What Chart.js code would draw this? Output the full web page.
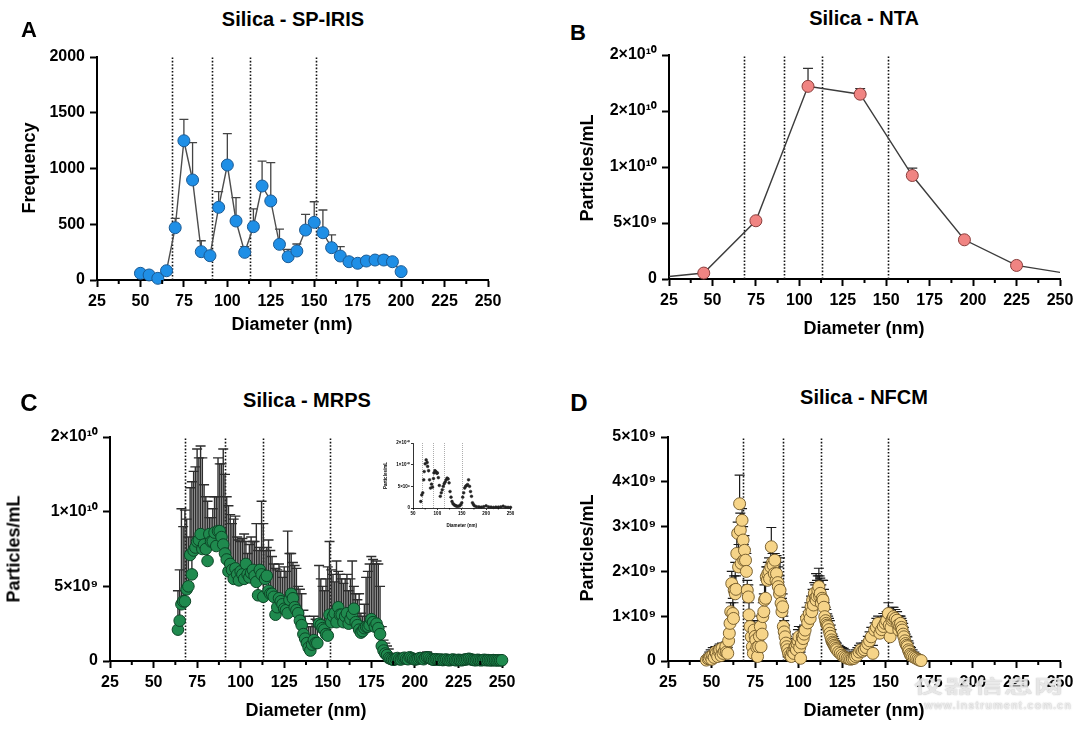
<!DOCTYPE html>
<html>
<head>
<meta charset="utf-8">
<script src="https://cdn.jsdelivr.net/npm/chart.js@4.4.1/dist/chart.umd.min.js"></script>
<style>
  body { margin: 0; background: #fff; }
  #page { position: relative; width: 1080px; height: 730px; overflow: hidden;
          font-family: 'Liberation Sans', Arial, sans-serif; font-weight: bold; color: #000; }
  canvas { position: absolute; }
  .t { position: absolute; white-space: nowrap; transform: translate(-50%, -50%); }
  .rot { transform: translate(-50%, -50%) rotate(-90deg); }
  .letter { font-size: 22px; }
  .title { font-size: 20px; }
  .axis { font-size: 18px; }
  .wm { color: rgba(255, 255, 255, 0.72); font-family: 'Noto Sans CJK SC', sans-serif;
        text-shadow: 0 0 1px rgba(120, 120, 120, 0.55), 0 0 2px rgba(160, 160, 160, 0.35); }
</style>
</head>
<body>
<div id="page">
  <canvas id="chartA" width="490" height="290" style="left:20px; top:40px"></canvas>
  <canvas id="chartB" width="485" height="290" style="left:590px; top:40px"></canvas>
  <canvas id="chartC" width="500" height="290" style="left:20px; top:420px"></canvas>
  <canvas id="chartD" width="485" height="290" style="left:590px; top:420px"></canvas>
  <canvas id="chartInset" width="132" height="92" style="left:383px; top:436px"></canvas>

  <div class="t letter" style="left:29px; top:30px">A</div>
  <div class="t letter" style="left:578px; top:33px">B</div>
  <div class="t letter" style="left:29px; top:403px; font-size:24px">C</div>
  <div class="t letter" style="left:579px; top:403px; font-size:24px">D</div>

  <div class="t title" style="left:293px; top:19px">Silica - SP-IRIS</div>
  <div class="t title" style="left:864px; top:18px">Silica - NTA</div>
  <div class="t title" style="left:307px; top:400px">Silica - MRPS</div>
  <div class="t title" style="left:864px; top:397px">Silica - NFCM</div>

  <div class="t axis rot" style="left:29px; top:168px">Frequency</div>
  <div class="t axis rot" style="left:587px; top:168px">Particles/mL</div>
  <div class="t axis rot" style="left:14px; top:549px">Particles/mL</div>
  <div class="t axis rot" style="left:587px; top:548px">Particles/mL</div>

  <div class="t axis" style="left:292px; top:324px">Diameter (nm)</div>
  <div class="t axis" style="left:864px; top:328px">Diameter (nm)</div>
  <div class="t axis" style="left:306px; top:710px">Diameter (nm)</div>
  <div class="t axis" style="left:864px; top:710px">Diameter (nm)</div>

  <div class="t wm" style="left:989px; top:685px; font-size:29px; letter-spacing:1px; transform:translate(-50%,-50%) scaleY(0.62)">仪器信息网</div>
  <div class="t wm" style="left:998px; top:705px; font-size:11px; letter-spacing:1px; font-family:'Liberation Sans', Arial">www.instrument.com.cn</div>
</div>

<script>
// Shared
const xTickLabels = ['25', '50', '75', '100', '125', '150', '175', '200', '225', '250'];
const guideLines = [68, 91, 113, 151];

// A - SP-IRIS (frequency)
const aDiameter = [50, 55, 60, 65, 70, 75, 80, 85, 90, 95, 100, 105, 110, 115, 120, 125,
                   130, 135, 140, 145, 150, 155, 160, 165, 170, 175, 180, 185, 190, 195, 200];
const aFrequency = [60, 45, 15, 83, 469, 1249, 897, 254, 218, 652, 1031, 529, 248, 478, 843, 709,
                    320, 209, 260, 448, 517, 424, 290, 215, 164, 150, 170, 179, 179, 164, 75];
const aFrequencyErr = [null, null, null, null, 553, 1440, 1232, 352, null, 792, 1312, 738, 299, 637, 1067, 1052,
                       457, 275, 323, 589, 702, 628, 404, 299, 200, null, null, null, 221, null, null];
const aYLabels = ['0', '500', '1000', '1500', '2000'];

// B - NTA (particles/mL, in units of 10^9)
const bDiameter = [15, 45, 75, 105, 135, 165, 195, 225, 255];
const bParticles = [0.08, 0.53, 5.2, 17.2, 16.5, 9.24, 3.5, 1.21, 0.47];
const bParticlesErr = [null, null, null, 18.8, 17.0, 9.9, null, null, null];
const bYLabels = ['0', '5×10⁹', '1×10¹⁰', '2×10¹⁰', '2×10¹⁰'];

// C - MRPS (particles/mL, 10^9)
const cDiameter = [
  64, 65, 66, 67, 68, 69, 70, 71, 72, 73, 74, 75, 76, 77, 78, 79, 80, 81, 82, 83,
  84, 85, 86, 87, 88, 89, 90, 91, 92, 93, 94, 95, 96, 97, 98, 99, 100, 101, 102, 103,
  104, 105, 106, 107, 108, 109, 110, 111, 112, 113, 114, 115, 116, 117, 118, 119, 120, 121, 122, 123,
  124, 125, 126, 127, 128, 129, 130, 131, 132, 133, 134, 135, 136, 137, 138, 139, 140, 141, 142, 143,
  144, 145, 146, 147, 148, 149, 150, 151, 152, 153, 154, 155, 156, 157, 158, 159, 160, 161, 162, 163,
  164, 165, 166, 167, 168, 169, 170, 171, 172, 173, 174, 175, 176, 177, 178, 179, 180, 181, 182, 183,
  184, 185, 186, 187, 188, 189, 190, 191, 192, 193, 194, 195, 196, 197, 198, 199, 200, 201, 202, 203,
  204, 205, 206, 207, 208, 209, 210, 211, 212, 213, 214, 215, 216, 217, 218, 219, 220, 221, 222, 223,
  224, 225, 226, 227, 228, 229, 230, 231, 232, 233, 234, 235, 236, 237, 238, 239, 240, 241, 242, 243,
  244, 245, 246, 247, 248, 249, 250];
const cParticles = [
  2.1, 2.7, 3.8, 4.0, 4.0, 4.8, 5.0, 7.1, 5.8, 7.4, 7.6, 8.0, 8.1, 8.5, 7.5, 7.8, 7.5, 6.7, 8.5, 8.0,
  8.0, 8.6, 7.7, 8.7, 8.7, 8.3, 7.8, 7.2, 6.8, 6.0, 6.5, 6.1, 5.5, 6.2, 5.8, 5.4, 6.0, 5.8, 5.5, 6.5,
  5.8, 5.6, 5.9, 6.1, 5.7, 5.3, 4.4, 6.1, 5.8, 4.3, 5.5, 5.7, 4.7, 4.5, 4.5, 4.3, 3.1, 3.6, 4.2, 4.0,
  3.8, 3.5, 3.4, 3.2, 4.1, 4.5, 4.2, 3.6, 3.4, 3.2, 2.7, 2.4, 1.8, 1.5, 1.2, 0.9, 0.7, 1.1, 1.4, 1.2,
  1.2, 2.5, 2.4, 2.2, 2.1, 1.8, 1.7, 3.1, 2.6, 3.0, 3.2, 2.6, 3.6, 3.1, 3.1, 2.6, 3.0, 3.2, 2.5, 2.8,
  3.1, 3.5, 2.6, 2.4, 2.1, 1.9, 2.0, 2.2, 2.3, 2.3, 2.4, 2.8, 2.6, 2.3, 2.5, 2.2, 1.8, 1.0, 0.7, 0.5,
  0.4, 0.2, 0.15, 0.1, 0.08, 0.15, 0.2, 0.12, 0.1, 0.18, 0.22, 0.15, 0.12, 0.25, 0.2, 0.15, 0.1, 0.12, 0.15, 0.2,
  0.18, 0.12, 0.2, 0.25, 0.22, 0.15, 0.1, 0.08, 0.12, 0.1, 0.08, 0.1, 0.06, 0.08, 0.1, 0.06, 0.05, 0.08, 0.1, 0.06,
  0.05, 0.08, 0.06, 0.05, 0.08, 0.1, 0.12, 0.15, 0.12, 0.08, 0.06, 0.05, 0.08, 0.06, 0.05, 0.06, 0.08, 0.05, 0.06, 0.05,
  0.04, 0.06, 0.05, 0.04, 0.05, 0.04, 0.05];
const cParticlesErr = [
  4.7, 6.1, 10.2, 9.0, 10.1, 9.5, 8.3, 11.6, 12.0, 12.7, 13.0, 14.2, 13.6, 14.4, 13.6, 11.8, 11.0, 10.7, 9.6, 9.6,
  10.2, 11.0, 11.0, 13.6, 13.2, 13.2, 14.2, 12.5, 11.0, 10.4, 9.8, 9.2, 9.5, 9.7, 8.3, 8.1, 8.0, 8.2, 8.5, 8.0,
  7.2, 7.8, 8.3, 8.0, 8.0, 9.2, 7.4, 7.6, 10.7, 9.2, 7.4, 7.6, 8.1, 7.4, 7.0, 6.5, 6.2, 6.1, 6.5, 6.0,
  5.6, 6.3, 6.0, 8.7, 7.2, 7.2, 6.6, 6.4, 6.2, 5.0, 4.8, 4.5, 3.4, 3.0, 2.5, 2.3, 2.3, 2.5, 3.0, 2.8,
  2.7, 6.4, 5.5, 5.0, 4.7, 5.5, 6.3, 8.0, 6.1, 5.8, 5.3, 6.7, 6.0, 5.8, 5.5, 5.2, 5.5, 5.8, 4.7, 5.5,
  6.7, 5.0, 4.5, 4.1, 4.5, 3.2, 3.0, 3.8, 5.6, 6.0, 6.5, 7.0, 6.8, 6.5, 6.7, 6.5, 5.0, 2.3, 1.4, 1.2,
  1.0, 0.8, 0.5, 0.3, 0.25, 0.35, 0.4, 0.3, 0.25, 0.35, 0.4, 0.3, 0.3, 0.45, 0.4, 0.3, 0.45, 0.3, 0.35, 0.4,
  0.35, 0.3, 0.4, 0.6, 0.45, 0.3, 0.4, 0.2, 0.25, 0.2, 0.18, 0.2, 0.15, 0.18, 0.2, 0.15, 0.12, 0.18, 0.2, 0.15,
  0.12, 0.18, 0.15, 0.12, 0.18, 0.2, 0.25, 0.3, 0.25, 0.18, 0.15, 0.12, 0.18, 0.15, 0.12, 0.15, 0.18, 0.12, 0.15, 0.12,
  0.1, 0.15, 0.12, 0.1, 0.12, 0.1, 0.12];
const cYLabels = ['0', '5×10⁹', '1×10¹⁰', '2×10¹⁰'];

// C inset (small overview, 10^9)
const insetDiameter = [66, 68, 70, 72, 73, 75, 77, 79, 80, 82, 84, 86, 88, 90, 92, 93, 95, 97, 99, 100,
                       102, 104, 106, 108, 110, 112, 114, 116, 118, 120, 122, 124, 126, 128, 130, 132, 134, 136, 138, 140,
                       143, 146, 148, 150, 152, 154, 156, 158, 160, 162, 164, 166, 168, 170, 172, 174, 176, 180, 185, 190,
                       195, 200, 205, 210, 215, 220, 225, 230, 235, 240, 245, 250];
const insetParticles = [1.5, 3.0, 3.5, 6.5, 8.4, 10.2, 11.1, 10.5, 9.6, 8.6, 6.5, 4.6, 5.5, 4.8, 6.8, 8.1, 8.6, 8.4, 8.0, 8.1,
                        7.0, 5.2, 2.7, 3.5, 4.2, 5.0, 5.6, 6.0, 6.5, 6.9, 6.7, 5.8, 3.8, 2.5, 1.5, 1.0, 0.8, 0.6, 0.5, 0.4,
                        0.4, 0.5, 0.8, 1.2, 2.5, 3.5, 4.6, 5.0, 5.2, 5.4, 6.5, 5.0, 3.8, 2.7, 1.2, 0.8, 0.5, 0.3, 0.25, 0.2,
                        0.3, 0.5, 0.25, 0.2, 0.15, 0.2, 0.2, 0.25, 0.4, 0.2, 0.15, 0.15];
const insetXLabels = ['50', '100', '150', '200', '250'];
const insetYLabels = ['0', '5×10⁹', '1×10¹⁰', '2×10¹⁰'];

// D - NFCM (particles/mL, 10^9)
const dDiameter = [
  47, 48, 48.7, 49.5, 50.2, 50.7, 51.5, 52.2, 52.7, 53.5, 54.2, 54.7, 55.5, 56, 56.6, 57.5, 58.2, 58.6, 59.3, 59.8,
  60.2, 60.6, 61, 61.6, 62.2, 62.6, 63, 63.6, 64, 64.5, 65, 65.5, 66.1, 66.5, 67, 67.5, 68.1, 68.5, 68.9, 69.5,
  70, 70.5, 71.1, 71.5, 72.1, 72.8, 73.4, 74, 74.4, 75, 75.4, 76, 76.4, 77, 77.5, 78, 78.4, 79, 79.4, 80,
  80.4, 81, 81.4, 82, 82.3, 83, 83.3, 84, 84.3, 85, 85.3, 86, 86.3, 87, 87.3, 88, 88.3, 89, 89.3, 89.9,
  90.4, 90.8, 91.2, 91.7, 92.2, 92.7, 93.2, 93.7, 94.2, 95, 95.8, 96.5, 97.2, 97.7, 98.2, 98.7, 99.1, 99.6, 100.1, 100.6,
  101.1, 101.6, 102.1, 102.6, 103.1, 103.7, 104.5, 105.2, 106.1, 106.6, 107.1, 107.6, 108, 108.5, 109, 109.5, 110, 110.5, 111, 111.6,
  112, 112.4, 113, 113.5, 114, 114.5, 115, 115.5, 115.9, 116.4, 116.9, 117.4, 117.9, 118.4, 118.9, 119.4, 119.9, 120.4, 120.9, 121.4,
  121.9, 122.9, 123.9, 124.8, 125.8, 126.8, 127.8, 128.8, 129.8, 130.8, 131.8, 132.7, 133.7, 134.7, 135.7, 136.7, 137.7, 138.7, 139.7, 140.7,
  141.7, 142.6, 143.6, 144.6, 145.6, 146.6, 147.6, 148.6, 149.6, 150.5, 151.5, 152, 152.5, 153, 153.5, 154, 154.5, 155.5, 156.5, 157,
  157.5, 158, 158.5, 159, 159.4, 160, 160.4, 161, 161.4, 162, 162.4, 163, 163.4, 164, 164.5, 165.4, 166.4, 167.4, 168.4, 169.3,
  170.3];
const dParticles = [
  0.02, 0.05, 0.06, 0.1, 0.04, 0.13, 0.08, 0.2, 0.17, 0.1, 0.22, 0.25, 0.12, 0.28, 0.17, 0.22, 0.32, 0.2, 0.17, 0.45,
  0.62, 0.84, 1.1, 1.73, 1.06, 0.95, 1.58, 1.5, 1.6, 2.4, 2.85, 2.1, 3.51, 2.92, 2.18, 3.14, 2.7, 2.25, 2.47, 2.25,
  2.0, 1.58, 1.43, 1.03, 0.77, 0.54, 0.32, 0.17, 0.69, 0.55, 0.47, 0.3, 0.1, 0.32, 0.55, 0.77, 0.32, 0.6, 0.99, 1.1,
  1.36, 1.4, 1.88, 1.8, 1.95, 2.0, 1.84, 2.1, 2.55, 2.2, 2.14, 1.95, 2.25, 1.8, 1.95, 1.75, 1.66, 1.5, 1.58, 1.29,
  1.1, 1.21, 0.77, 0.65, 0.54, 0.4, 0.32, 0.25, 0.17, 0.12, 0.1, 0.2, 0.17, 0.3, 0.32, 0.25, 0.39, 0.45, 0.54, 0.3,
  0.06, 0.4, 0.54, 0.5, 0.6, 0.69, 0.95, 0.85, 1.06, 0.95, 1.21, 1.1, 1.36, 1.25, 1.51, 1.4, 1.36, 1.45, 1.58, 1.66,
  1.45, 1.51, 1.29, 1.4, 1.36, 1.2, 0.99, 0.9, 0.84, 0.8, 0.77, 0.7, 0.62, 0.55, 0.47, 0.42, 0.39, 0.35, 0.32, 0.28,
  0.25, 0.2, 0.17, 0.13, 0.1, 0.08, 0.06, 0.05, 0.04, 0.05, 0.06, 0.1, 0.13, 0.2, 0.25, 0.22, 0.25, 0.3, 0.39, 0.45,
  0.54, 0.17, 0.69, 0.75, 0.84, 0.62, 0.7, 0.77, 0.84, 0.9, 1.06, 0.8, 0.54, 0.75, 0.91, 0.95, 0.99, 0.95, 0.91, 0.8,
  0.69, 0.78, 0.84, 0.75, 0.69, 0.6, 0.54, 0.45, 0.39, 0.35, 0.32, 0.25, 0.21, 0.15, 0.12, 0.1, 0.08, 0.06, 0.04, 0.02,
  0.01];
const dParticlesErr = [
  0.1, 0.15, 0.2, 0.25, 0.2, 0.3, 0.22, 0.32, 0.3, 0.25, 0.35, 0.38, 0.28, 0.4, 0.32, 0.35, 0.42, 0.36, 0.3, 0.6,
  0.8, 1.1, 1.3, 2.0, 1.4, 1.3, 1.9, 2.2, 1.9, 2.8, 3.1, 2.6, 4.15, 3.3, 2.8, 3.4, 3.0, 2.6, 2.8, 2.5,
  2.4, 1.8, 1.7, 1.3, 1.0, 0.9, 0.7, 0.5, 0.9, 0.85, 0.75, 0.55, 0.3, 0.6, 0.8, 1.0, 0.6, 0.9, 1.3, 1.5,
  1.7, 1.8, 2.1, 2.1, 2.2, 2.3, 2.2, 2.5, 2.98, 2.4, 2.4, 2.3, 2.4, 2.2, 2.35, 2.2, 2.1, 1.9, 2.3, 1.6,
  1.4, 1.5, 1.0, 0.9, 0.8, 0.65, 0.55, 0.5, 0.4, 0.3, 0.28, 0.35, 0.3, 0.45, 0.5, 0.4, 0.6, 0.7, 0.77, 0.55,
  0.2, 0.6, 0.75, 0.7, 0.8, 0.99, 1.2, 1.1, 1.3, 1.2, 1.45, 1.35, 1.6, 1.5, 1.75, 1.7, 1.95, 1.8, 1.9, 2.07,
  1.9, 1.85, 1.7, 1.8, 1.8, 1.6, 1.3, 1.2, 1.15, 1.05, 1.0, 0.95, 0.9, 0.8, 0.7, 0.6, 0.55, 0.5, 0.45, 0.42,
  0.4, 0.35, 0.32, 0.3, 0.28, 0.25, 0.2, 0.18, 0.15, 0.16, 0.2, 0.25, 0.3, 0.35, 0.4, 0.36, 0.4, 0.45, 0.55, 0.65,
  0.75, 0.35, 0.85, 0.95, 1.0, 0.85, 0.95, 1.06, 1.0, 1.1, 1.3, 1.1, 0.8, 1.0, 1.15, 1.2, 1.2, 1.15, 1.1, 1.0,
  0.95, 1.0, 1.0, 0.95, 0.9, 0.84, 0.75, 0.65, 0.6, 0.55, 0.54, 0.45, 0.4, 0.32, 0.3, 0.25, 0.2, 0.15, 0.12, 0.08,
  0.05];
const dYLabels = ['0', '1×10⁹', '2×10⁹', '3×10⁹', '4×10⁹', '5×10⁹'];

// Plugin: dotted guide lines, error bars, minor ticks on x
const panelDecor = {
  id: 'panelDecor',
  beforeDatasetsDraw(chart, args, opts) {
    const {ctx, chartArea} = chart;
    const x = chart.scales.x, y = chart.scales.y;
    ctx.save();
    ctx.strokeStyle = opts.guideColor || '#111';
    ctx.lineWidth = opts.guideWidth || 1.6;
    ctx.setLineDash(opts.guideDash || [1.6, 1.8]);
    (opts.guides || []).forEach(v => {
      const px = Math.round(x.getPixelForValue(v)) + 0.5;
      ctx.beginPath();
      ctx.moveTo(px, chartArea.bottom);
      ctx.lineTo(px, chartArea.top);
      ctx.stroke();
    });
    ctx.restore();

    chart.data.datasets.forEach((ds, di) => {
      if (!ds.errUpper) return;
      const meta = chart.getDatasetMeta(di);
      const cap = opts.errCap || 4.5;
      ctx.save();
      ctx.strokeStyle = opts.errColor || '#333';
      ctx.lineWidth = opts.errWidth || 1;
      meta.data.forEach((pt, i) => {
        const top = ds.errUpper[i];
        if (top == null) return;
        if (pt.x < chartArea.left - 1 || pt.x > chartArea.right + 1) return;
        const py = y.getPixelForValue(top);
        ctx.beginPath();
        ctx.moveTo(pt.x, pt.y);
        ctx.lineTo(pt.x, py);
        ctx.moveTo(pt.x - cap, py);
        ctx.lineTo(pt.x + cap, py);
        ctx.stroke();
      });
      ctx.restore();
    });
  },
  afterDraw(chart, args, opts) {
    if (!opts.minorLen) return;
    const {ctx} = chart;
    const x = chart.scales.x;
    const ticks = x.ticks;
    ctx.save();
    ctx.strokeStyle = '#000';
    ctx.lineWidth = opts.minorWidth || 2;
    for (let i = 0; i < ticks.length - 1; i++) {
      const px = x.getPixelForValue((ticks[i].value + ticks[i + 1].value) / 2);
      ctx.beginPath();
      ctx.moveTo(px, x.top);
      ctx.lineTo(px, x.top + opts.minorLen);
      ctx.stroke();
    }
    ctx.restore();
  }
};
Chart.register(panelDecor);

Chart.defaults.font.family = "'Liberation Sans', Arial, sans-serif";
Chart.defaults.font.weight = 'bold';
Chart.defaults.color = '#000';

// Axis setup: fixed axis sizes so the plot area lands where it should
function makeScales(p) {
  return {
    x: {
      type: 'linear', min: p.xMin, max: p.xMax,
      ticks: { stepSize: p.xStep, autoSkip: false, maxRotation: 0, padding: p.tickPad,
               font: { size: p.font, weight: 'bold' }, color: '#000',
               callback: (v, i) => p.xLabels[i] },
      grid: { drawOnChartArea: false, tickLength: p.tickLen, tickWidth: p.axisWidth, tickColor: '#000' },
      border: { color: '#000', width: p.axisWidth },
      title: p.xTitle ? { display: true, text: p.xTitle, font: { size: p.font, weight: 'bold' }, padding: 0 } : { display: false },
      afterFit(s) { s.height = p.xAxisH; s.paddingLeft = 0; s.paddingRight = 0; }
    },
    y: {
      type: 'linear', min: 0, max: p.yMax,
      ticks: { stepSize: p.yStep, autoSkip: false, padding: p.tickPad,
               font: { size: p.font, weight: 'bold' }, color: '#000',
               callback: (v, i) => p.yLabels[i] },
      grid: { drawOnChartArea: false, tickLength: p.tickLen, tickWidth: p.axisWidth, tickColor: '#000' },
      border: { color: '#000', width: p.axisWidth },
      title: p.yTitle ? { display: true, text: p.yTitle, font: { size: p.font, weight: 'bold' }, padding: 0 } : { display: false },
      afterFit(s) { s.width = p.yAxisW; s.paddingTop = 0; s.paddingBottom = 0; }
    }
  };
}

function makeOptions(p, decor) {
  return {
    responsive: false,
    animation: false,
    events: [],
    layout: { padding: { top: p.padTop, right: p.padRight, left: 0, bottom: 0 } },
    plugins: { legend: { display: false }, tooltip: { enabled: false }, title: { display: false }, panelDecor: decor },
    scales: makeScales(p)
  };
}

const bigAxis = { xMin: 25, xMax: 250, xStep: 25, xLabels: xTickLabels, font: 16, tickPad: 5, tickLen: 7, axisWidth: 2 };

// Chart A
new Chart(document.getElementById('chartA'), {
  type: 'line',
  data: {
    datasets: [{
      data: aDiameter.map((d, i) => ({ x: d, y: aFrequency[i] })),
      errUpper: aFrequencyErr,
      borderColor: '#4d4d4d', borderWidth: 1.4, tension: 0,
      pointRadius: 6, pointBackgroundColor: '#1f8fe6', pointBorderColor: '#1a5a94', pointBorderWidth: 1,
      clip: false
    }]
  },
  options: makeOptions({ ...bigAxis, yMax: 2000, yStep: 500, yLabels: aYLabels,
                         yAxisW: 77, xAxisH: 50, padTop: 17, padRight: 22 },
                       { guides: guideLines, errColor: '#444', errWidth: 1.3, errCap: 4.5, minorLen: 4 })
});

// Chart B
new Chart(document.getElementById('chartB'), {
  type: 'line',
  data: {
    datasets: [{
      data: bDiameter.map((d, i) => ({ x: d, y: bParticles[i] })),
      errUpper: bParticlesErr,
      borderColor: '#3c3c3c', borderWidth: 1.4, tension: 0,
      pointRadius: 6, pointBackgroundColor: '#f08482', pointBorderColor: '#8a3d3b', pointBorderWidth: 1,
      clip: { left: 0, right: 0, top: false, bottom: false }
    }]
  },
  options: makeOptions({ ...bigAxis, yMax: 20, yStep: 5, yLabels: bYLabels,
                         yAxisW: 79, xAxisH: 51, padTop: 15, padRight: 15 },
                       { guides: guideLines, errColor: '#333', errWidth: 1.3, errCap: 5, minorLen: 4 })
});

// Chart C
new Chart(document.getElementById('chartC'), {
  type: 'scatter',
  data: {
    datasets: [{
      data: cDiameter.map((d, i) => ({ x: d, y: cParticles[i] })),
      errUpper: cParticlesErr,
      pointRadius: 5.8, pointBackgroundColor: '#1f8a4e', pointBorderColor: '#0c4526', pointBorderWidth: 1,
      clip: false
    }]
  },
  options: makeOptions({ ...bigAxis, yMax: 15, yStep: 5, yLabels: cYLabels,
                         yAxisW: 90, xAxisH: 49, padTop: 17, padRight: 18 },
                       { guides: guideLines, errColor: '#2e2e2e', errWidth: 1.4, errCap: 5, minorLen: 4 })
});

// Chart D
new Chart(document.getElementById('chartD'), {
  type: 'scatter',
  data: {
    datasets: [{
      data: dDiameter.map((d, i) => ({ x: d, y: dParticles[i] })),
      errUpper: dParticlesErr,
      pointRadius: 6, pointBackgroundColor: '#f6d488', pointBorderColor: '#6e5626', pointBorderWidth: 0.9,
      clip: false
    }]
  },
  options: makeOptions({ ...bigAxis, yMax: 5, yStep: 1, yLabels: dYLabels,
                         yAxisW: 78, xAxisH: 49, padTop: 17, padRight: 15 },
                       { guides: guideLines, errColor: '#1a1a1a', errWidth: 1.2, errCap: 5, minorLen: 4 })
});

// Inset in C
new Chart(document.getElementById('chartInset'), {
  type: 'scatter',
  data: {
    datasets: [{
      data: insetDiameter.map((d, i) => ({ x: d, y: insetParticles[i] })),
      pointRadius: 1.4, pointBackgroundColor: '#222', pointBorderColor: '#222', pointBorderWidth: 0.5,
      clip: false
    }]
  },
  options: makeOptions({ xMin: 50, xMax: 250, xStep: 50, xLabels: insetXLabels, font: 4.5, tickPad: 1,
                         tickLen: 2, axisWidth: 0.8, yMax: 15, yStep: 5, yLabels: insetYLabels,
                         xTitle: 'Diameter (nm)', yTitle: 'Particles/mL',
                         yAxisW: 30, xAxisH: 20, padTop: 7, padRight: 4 },
                       { guides: guideLines, guideColor: '#777', guideWidth: 0.6, guideDash: [1, 1], minorLen: 1.5, minorWidth: 0.8 })
});
</script>
</body>
</html>
